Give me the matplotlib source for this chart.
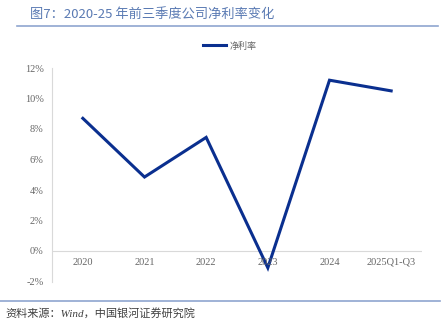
import matplotlib.pyplot as plt
from matplotlib.lines import Line2D

plt.rcParams['font.family'] = ['Liberation Serif', 'Noto Sans CJK SC', 'DejaVu Sans']

# 2020-2025前三季度净利率（%）
years = ['2020', '2021', '2022', '2023', '2024', '2025Q1-Q3']
net_margin = [8.7, 4.85, 7.45, -1.1, 11.2, 10.5]
yticks = [-2, 0, 2, 4, 6, 8, 10, 12]

W, H = 442, 329
fig = plt.figure(figsize=(W / 100, H / 100), dpi=100)

ax = fig.add_axes([52 / W, 1 - 281.5 / H, (422 - 52) / W, (281.5 - 68) / H])
x = range(len(years))
ax.plot(x, net_margin, color='#0a2f8f', linewidth=2.2, solid_joinstyle='miter')

ax.set_xlim(-0.5, len(years) - 0.5)
ax.set_ylim(-2, 12)
ax.set_yticks(yticks)
ax.set_yticklabels([f'{v}%' for v in yticks])
ax.set_xticks([])
ax.tick_params(axis='y', length=0, labelsize=7.5, colors='#666666', pad=6)

for s in ['top', 'right', 'bottom']:
    ax.spines[s].set_visible(False)
ax.spines['left'].set_color('#d9d9d9')
ax.spines['left'].set_linewidth(0.8)
ax.axhline(0, color='#d9d9d9', linewidth=0.8, zorder=0)

# 类别标签放在0%线下方
for i, yr in enumerate(years):
    ax.text(i, -0.45, yr, ha='center', va='top', fontsize=7.5, color='#666666')

# 图例
fig.legend(handles=[Line2D([], [], color='#0a2f8f', linewidth=2.2)], labels=['净利率'],
           loc='center', bbox_to_anchor=(230 / W, 1 - 46 / H), frameon=False,
           handlelength=2.6, handletextpad=0.4, labelcolor='#666666',
           prop={'family': ['Noto Sans CJK SC'], 'size': 6.5})

# 标题与分隔线
fig.text(30 / W, 1 - 15 / H, '图7：2020-25 年前三季度公司净利率变化', fontsize=9.5,
         color='#5a7ab3', va='center', ha='left', family=['Noto Sans CJK SC'])
fig.add_artist(Line2D([17 / W, 438 / W], [1 - 26 / H, 1 - 26 / H], color='#8fa5cf',
                      linewidth=1.2))
fig.add_artist(Line2D([0, 440 / W], [1 - 301 / H, 1 - 301 / H], color='#8fa5cf',
                      linewidth=1.2))
fig.text(5 / W, 1 - 313 / H, '资料来源：Wind，中国银河证券研究院', fontsize=8,
         color='#404040', va='center', ha='left', style='italic')

fig.savefig('out.png', dpi=100)
